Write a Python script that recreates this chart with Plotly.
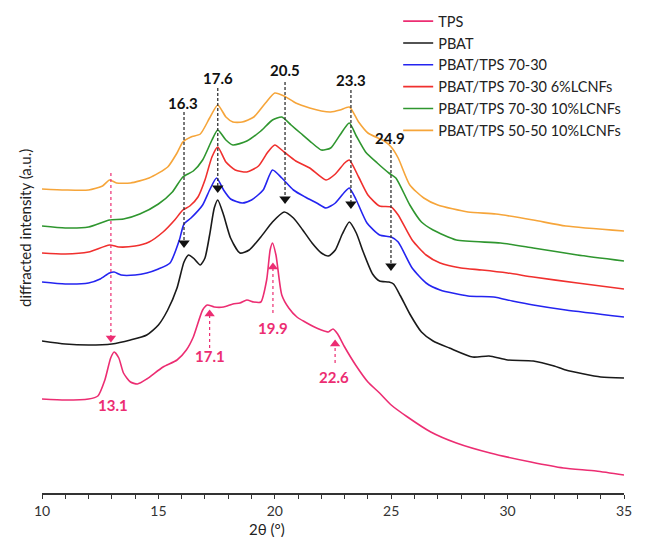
import plotly.graph_objects as go

# ---------------- data (2θ in degrees, diffracted intensity in a.u., curves offset) ----------------
tps_x = [10.0, 11.0, 12.0, 12.4, 12.7, 12.95, 13.1, 13.3, 13.5, 13.8, 14.1, 14.5, 15.2, 15.8, 16.2,
         16.5, 16.9, 17.1, 17.4, 17.8, 18.2, 18.5, 18.8, 19.1, 19.4, 19.65, 19.8, 19.9, 20.05, 20.3,
         20.6, 20.95, 21.3, 21.7, 22.0, 22.3, 22.5, 22.7, 23.0, 23.5, 24.0, 24.5, 25.0, 25.7, 26.7,
         27.8, 29.25, 31.0, 32.4, 33.8, 35.0]
tps_y = [94, 93, 94, 97, 113, 135, 141, 135, 120, 111, 109, 114, 126, 133, 143,
         156, 183, 188, 186, 186, 189, 190, 193, 191, 191, 213, 243, 250, 238, 198,
         185, 176, 171, 166, 163, 161, 164, 159, 146, 127, 111, 100, 88, 76, 61,
         50, 40, 31, 25, 22, 18]

pbat_x = [10.0, 11.0, 12.0, 13.0, 13.8, 14.5, 15.0, 15.4, 15.8, 16.1, 16.3, 16.5, 16.8, 17.0, 17.2,
          17.4, 17.55, 17.8, 18.1, 18.5, 18.9, 19.4, 19.9, 20.4, 20.8, 21.2, 21.6, 22.0, 22.3, 22.6,
          22.9, 23.2, 23.5, 23.8, 24.2, 24.5, 24.9, 25.1, 25.4, 25.8, 26.3, 26.8, 27.5, 28.5, 29.2,
          30.0, 31.1, 32.0, 32.5, 34.0, 35.0]
pbat_y = [152, 149, 148, 149, 153, 158, 168, 183, 205, 231, 238, 235, 228, 235, 258,
          285, 293, 278, 255, 240, 243, 256, 271, 281, 275, 263, 250, 240, 237, 243,
          259, 271, 260, 241, 219, 212, 211, 209, 197, 179, 161, 152, 145, 136, 137,
          133, 132, 127, 123, 116, 115]

b7030_x = [10.0, 11.0, 12.0, 12.5, 12.9, 13.1, 13.4, 14.0, 14.5, 15.0, 15.5, 15.9, 16.1, 16.4, 16.9,
           17.2, 17.5, 17.8, 18.1, 18.6, 19.0, 19.5, 19.9, 20.3, 20.8, 21.3, 21.8, 22.2, 22.6, 23.0,
           23.2, 23.5, 23.96, 24.5, 25.0, 25.3, 25.9, 26.5, 27.1, 28.3, 29.4, 30.2, 31.1, 32.5, 35.0]
b7030_y = [211, 209, 210, 214, 220, 221, 218, 218, 220, 224, 230, 253, 269, 275, 288,
           303, 315, 303, 294, 290, 293, 303, 323, 315, 303, 296, 290, 285, 290, 301,
           305, 293, 270, 258, 256, 251, 225, 210, 203, 197, 196, 192, 188, 183, 176]

l6_x = [10.0, 11.0, 12.0, 12.9, 13.3, 14.0, 14.6, 15.2, 15.7, 16.05, 16.35, 16.7, 17.0, 17.3, 17.55,
        17.9, 18.3, 18.8, 19.3, 19.7, 20.0, 20.4, 20.9, 21.5, 22.2, 22.6, 23.0, 23.2, 23.6, 24.0,
        24.5, 25.0, 25.3, 25.9, 26.5, 27.1, 28.0, 28.9, 30.0, 31.1, 33.0, 35.0]
l6_y = [240, 239, 241, 248, 246, 247, 251, 261, 273, 283, 287, 296, 313, 336, 346,
        331, 323, 321, 327, 341, 348, 341, 332, 325, 313, 319, 330, 333, 316, 298,
        287, 286, 278, 253, 238, 230, 225, 223, 220, 216, 210, 204]

l10_x = [10.0, 11.0, 12.0, 12.9, 13.5, 14.2, 15.0, 15.6, 16.05, 16.5, 16.9, 17.3, 17.55, 17.9, 18.2,
         18.8, 19.4, 19.9, 20.3, 20.7, 21.1, 21.6, 22.0, 22.4, 22.8, 23.2, 23.5, 23.9, 24.4, 24.9,
         25.2, 25.8, 26.3, 26.8, 27.8, 29.7, 31.1, 33.0, 35.0]
l10_y = [267, 265, 266, 273, 274, 279, 289, 301, 316, 322, 333, 353, 363, 353, 348,
         352, 362, 373, 376, 368, 360, 350, 343, 345, 358, 370, 357, 341, 330, 320,
         315, 288, 271, 263, 253, 250, 245, 238, 232]

m5050_x = [10.0, 11.0, 12.0, 12.6, 12.9, 13.2, 13.8, 14.6, 15.4, 15.8, 16.05, 16.4, 16.8, 17.2, 17.55,
           17.9, 18.2, 18.6, 19.1, 19.6, 20.0, 20.4, 20.9, 21.5, 22.0, 22.4, 22.8, 23.2, 23.6, 24.0,
           24.7, 25.0, 25.3, 25.8, 26.4, 27.0, 28.3, 29.5, 31.1, 32.5, 35.0]
m5050_y = [304, 303, 303, 307, 313, 310, 310, 315, 326, 340, 351, 356, 359, 375, 388,
           376, 371, 371, 376, 390, 400, 397, 390, 385, 382, 381, 383, 386, 371, 360,
           352, 346, 335, 308, 295, 288, 281, 279, 273, 267, 262]

series_names = ["TPS", "PBAT", "PBAT/TPS 70-30", "PBAT/TPS 70-30 6%LCNFs",
                "PBAT/TPS 70-30 10%LCNFs", "PBAT/TPS 50-50 10%LCNFs"]
series_x = [tps_x, pbat_x, b7030_x, l6_x, l10_x, m5050_x]
series_y = [tps_y, pbat_y, b7030_y, l6_y, l10_y, m5050_y]
series_colors = ["#EC2D72", "#1A1A1A", "#2424F0", "#F0302E", "#2F962F", "#F6A53A"]

# peak markers: PBAT (black, arrows pointing down) and TPS (pink)
pbat_peak_labels = ["16.3", "17.6", "20.5", "23.3", "24.9"]
pbat_peak_x = [16.1, 17.55, 20.44, 23.27, 24.99]
pbat_arrow_top = [381, 405, 411, 403, 343]
pbat_arrow_tip = [246, 301, 290, 285, 223]
pbat_label_y = [390, 415, 423, 413, 355]
pbat_label_x = [16.06, 17.55, 20.44, 23.27, 24.95]

tps_peak_labels = ["13.1", "17.1", "19.9", "22.6"]
tps_peak_x = [12.96, 17.2, 19.92, 22.59]
tps_arrow_from = [320, 145, 180, 130]
tps_arrow_tip = [151, 183, 230, 153]
tps_label_y = [88, 137, 165, 116]
tps_label_x = [13.05, 17.2, 19.92, 22.55]

x_ticks = list(range(10, 36))

# ---------------- figure ----------------
fig = go.Figure()
for name, xs, ys, col in zip(series_names, series_x, series_y, series_colors):
    fig.add_trace(go.Scatter(x=xs, y=ys, mode="lines", name=name,
                             line=dict(color=col, width=1.6, shape="spline", smoothing=0.6)))

FONT = "Lato, 'Open Sans', sans-serif"
annotations = []
shapes = []
for lab, xp, top, tip, ly, lx in zip(pbat_peak_labels, pbat_peak_x, pbat_arrow_top,
                                     pbat_arrow_tip, pbat_label_y, pbat_label_x):
    shapes.append(dict(type="line", xref="x", yref="y", x0=xp, x1=xp, y0=top, y1=tip + 6,
                       line=dict(color="#333333", width=1.3, dash="3px,2px")))
    annotations.append(dict(x=lx, y=ly, xref="x", yref="y", text="<b>%s</b>" % lab,
                            showarrow=False, font=dict(family=FONT, size=15, color="#111111")))
fig.add_trace(go.Scatter(x=pbat_peak_x, y=[t + 4 for t in pbat_arrow_tip], mode="markers",
                         marker=dict(symbol="triangle-down", size=10, color="#111111"),
                         showlegend=False, hoverinfo="skip"))

for lab, xp, fr, tip, ly, lx in zip(tps_peak_labels, tps_peak_x, tps_arrow_from,
                                    tps_arrow_tip, tps_label_y, tps_label_x):
    down = fr > tip
    shapes.append(dict(type="line", xref="x", yref="y", x0=xp, x1=xp, y0=fr,
                       y1=tip + (6 if down else -6),
                       line=dict(color="#EC2D72", width=1.2, dash="dot")))
    annotations.append(dict(x=lx, y=ly, xref="x", yref="y", text="<b>%s</b>" % lab,
                            showarrow=False, font=dict(family=FONT, size=15, color="#EC2D72")))
fig.add_trace(go.Scatter(x=tps_peak_x,
                         y=[t + 4 if f > t else t - 4 for f, t in zip(tps_arrow_from, tps_arrow_tip)],
                         mode="markers",
                         marker=dict(symbol=["triangle-down" if f > t else "triangle-up"
                                             for f, t in zip(tps_arrow_from, tps_arrow_tip)],
                                     size=9, color="#EC2D72"),
                         showlegend=False, hoverinfo="skip"))

annotations.append(dict(x=0.3866, y=-0.0735, xref="paper", yref="paper", text="2θ (°)",
                        showarrow=False, xanchor="center", yanchor="middle",
                        font=dict(family=FONT, size=15, color="#222222")))
annotations.append(dict(x=-0.0292, y=0.5487, xref="paper", yref="paper",
                        text="diffracted intensity (a.u.)", textangle=-90,
                        showarrow=False, xanchor="center", yanchor="middle",
                        font=dict(family=FONT, size=15, color="#222222")))

fig.update_layout(
    width=651, height=537,
    margin=dict(l=42, r=27, t=10, b=44, autoexpand=False),
    paper_bgcolor="white", plot_bgcolor="white",
    font=dict(family=FONT, color="#222222"),
    shapes=shapes, annotations=annotations,
    legend=dict(x=0.612, y=1.010, xanchor="left", yanchor="top", bgcolor="rgba(0,0,0,0)",
                font=dict(family=FONT, size=14.5, color="#222222"),
                itemwidth=30, tracegroupgap=0),
    xaxis=dict(range=[10, 35], showgrid=False, zeroline=False, showline=True,
               linecolor="#333333", linewidth=1.5, ticks="outside", ticklen=4,
               tickcolor="#333333", tickwidth=1.2, tickvals=x_ticks,
               ticktext=[str(v) if v % 5 == 0 else "" for v in x_ticks],
               tickfont=dict(family=FONT, size=14, color="#333333")),
    yaxis=dict(range=[0, 483], visible=False),
)

fig.write_html("out.html", config={"displayModeBar": False},
               post_script="document.body.style.margin='0px';")
